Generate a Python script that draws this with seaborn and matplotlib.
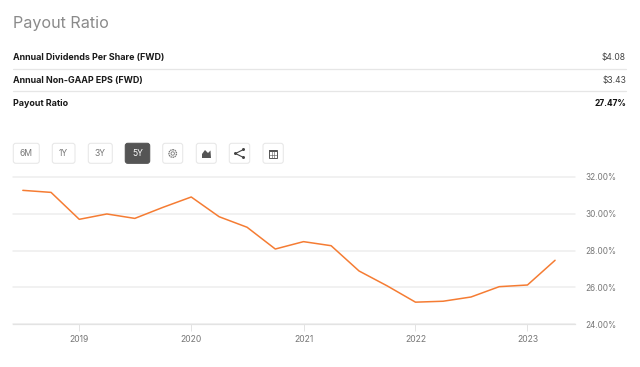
import pandas as pd
import numpy as np
import matplotlib.pyplot as plt
import matplotlib.dates as mdates
import seaborn as sns
from matplotlib.patches import FancyBboxPatch, Circle, Polygon, Rectangle

quarters = ['2018-07-01', '2018-10-01', '2019-01-01', '2019-04-01', '2019-07-01',
            '2019-10-01', '2020-01-01', '2020-04-01', '2020-07-01', '2020-10-01',
            '2021-01-01', '2021-04-01', '2021-07-01', '2021-10-01', '2022-01-01',
            '2022-04-01', '2022-07-01', '2022-10-01', '2023-01-01', '2023-04-01']
ratio = [31.26, 31.15, 29.69, 29.98, 29.74, 30.34, 30.90, 29.83, 29.26, 28.08,
         28.48, 28.26, 26.89, 26.08, 25.20, 25.25, 25.48, 26.04, 26.13, 27.47]
y_ticks = [24, 26, 28, 30, 32]
rows = ['Annual Dividends Per Share (FWD)', 'Annual Non-GAAP EPS (FWD)', 'Payout Ratio']
row_values = ['$4.08', '$3.43', '27.47%']
ranges = ['6M', '1Y', '3Y', '5Y']

W, H = 640, 367
sns.set_theme(style='white')
plt.rcParams['font.family'] = ['Inter', 'DejaVu Sans']

df = pd.DataFrame({'date': pd.to_datetime(quarters), 'ratio': ratio})

fig = plt.figure(figsize=(W / 100, H / 100), dpi=100, facecolor='white')

# page layer in pixel coordinates
bg = fig.add_axes([0, 0, 1, 1])
bg.set_xlim(0, W)
bg.set_ylim(H, 0)
bg.axis('off')

bg.text(13, 23.5, 'Payout Ratio', fontsize=11.6, color='#8a8a8a', va='center', ha='left')

row_y = [57.5, 80.2, 103]
for i in range(3):
    bg.text(13, row_y[i], rows[i], fontsize=6.45, fontweight='bold', color='#1a1a1a', va='center')
    bg.text(626, row_y[i], row_values[i], fontsize=6.1, color='#111111' if i == 2 else '#444444',
            fontweight='bold' if i == 2 else 'normal', va='center', ha='right')
for y in [68.5, 91.2]:
    bg.plot([13, 626], [y, y], color='#e6e6e6', lw=0.9)


def button(x0, x1, dark=False):
    box = FancyBboxPatch((x0 + 2, 145.3), x1 - x0 - 4, 16, boxstyle='round,pad=2,rounding_size=2.5',
                         fc='#555555' if dark else 'white', ec='#555555' if dark else '#e8e8e8', lw=0.8)
    bg.add_patch(box)


range_x = [(13.3, 39.3), (52.3, 75), (88.3, 112.3), (125.3, 149.7)]
for i in range(4):
    button(range_x[i][0], range_x[i][1], dark=i == 3)
    bg.text(sum(range_x[i]) / 2, 153.6, ranges[i], fontsize=6.2, ha='center', va='center',
            color='white' if i == 3 else '#777777')

for x0, x1 in [(162.7, 182.7), (196.3, 216.3), (229.3, 249.7), (263, 283.3)]:
    button(x0, x1)

# gear icon
bg.add_patch(Circle((172.7, 153.5), 3.8, fc='none', ec='#777777', lw=0.9, ls=(0, (1.2, 0.5))))
bg.add_patch(Circle((172.7, 153.5), 1.7, fc='none', ec='#777777', lw=0.6))
# area chart icon
bg.add_patch(Polygon([(202, 158), (202, 154), (205, 150), (208, 153), (210.5, 150.5), (211, 158)],
                     closed=True, fc='#555555', ec='none'))
# share icon
bg.plot([243.5, 235.5, 243.5], [149.5, 153.5, 157.5], color='#444444', lw=0.8)
for cx, cy in [(243.5, 149.5), (235.5, 153.5), (243.5, 157.5)]:
    bg.add_patch(Circle((cx, cy), 1.5, fc='#444444', ec='none'))
# table icon
bg.add_patch(Rectangle((269, 149.5), 8, 8, fc='white', ec='#555555', lw=0.7))
bg.add_patch(Rectangle((269, 149.5), 8, 2, fc='#555555', ec='none'))
bg.plot([271.7, 271.7], [151, 157.5], color='#555555', lw=0.4)
bg.plot([274.3, 274.3], [151, 157.5], color='#555555', lw=0.4)
bg.plot([269, 277], [154.5, 154.5], color='#555555', lw=0.4)

# chart
x0, x1, y_top, y_bot = 13, 574.7, 176.7, 324.3
ax = fig.add_axes([x0 / W, 1 - y_bot / H, (x1 - x0) / W, (y_bot - y_top) / H])
ax.patch.set_alpha(0)
sns.lineplot(data=df, x='date', y='ratio', color='#f57c33', lw=1.1, ax=ax, errorbar=None)
ax.set_xlim(pd.Timestamp('2018-05-30'), pd.Timestamp('2023-06-04'))
ax.set_ylim(24, 32)
ax.set_xlabel('')
ax.set_ylabel('')
ax.yaxis.tick_right()
ax.set_yticks(y_ticks)
ax.set_yticklabels(['%.2f%%' % v for v in y_ticks])
ax.xaxis.set_major_locator(mdates.YearLocator())
ax.xaxis.set_major_formatter(mdates.DateFormatter('%Y'))
ax.grid(axis='y', color='#eeeeee', lw=1.1, clip_on=False)
ax.set_axisbelow(True)
for s in ['top', 'left', 'right']:
    ax.spines[s].set_visible(False)
ax.spines['bottom'].set_color('#e3e3e3')
ax.spines['bottom'].set_linewidth(0.9)
ax.tick_params(axis='y', length=0, pad=8, labelsize=5.9, labelcolor='#777777')
ax.tick_params(axis='x', length=5, width=0.7, color='#e3e3e3', pad=3, labelsize=6.2, labelcolor='#777777', bottom=True)

fig.savefig('out.png', dpi=100)
